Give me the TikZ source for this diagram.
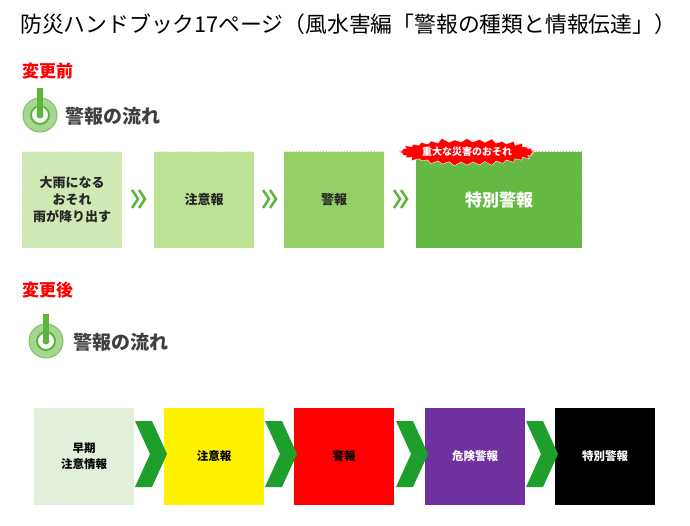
\documentclass[tikz,border=0pt]{standalone}
\usepackage{fontspec}
\setmainfont{Noto Sans CJK JP}
\usetikzlibrary{shapes.symbols,patterns}
\definecolor{gA}{HTML}{CFE8B0}
\definecolor{gB}{HTML}{B7E08E}
\definecolor{gC}{HTML}{8FCD5C}
\definecolor{gD}{HTML}{5CB53A}
\definecolor{chev}{HTML}{1E9E2A}
\definecolor{pale}{HTML}{E2EFDA}
\definecolor{purp}{HTML}{7030A0}
\tikzset{
  oldbox/.style={minimum width=100pt, minimum height=96pt, inner sep=0pt, font=\bfseries\fontsize{13}{17}\selectfont, align=center, text=black!85},
  newbox/.style={minimum width=100pt, minimum height=97pt, inner sep=0pt, font=\bfseries\fontsize{11.5}{16}\selectfont, align=center},
  hatch/.style={fill=#1, postaction={pattern=north east lines, pattern color=#1!82!white}},
  heading/.style={anchor=west, font=\bfseries\fontsize{19}{19}\selectfont, text=black!75},
  dchev/.style={draw=gD, line width=2.5pt},
}
\newcommand*\alerticon[1]{% centre of the icon
  \fill[gD!55] #1 circle (17);
  \draw[gD!80, line width=1pt] #1 circle (17);
  \draw[gD, line width=2pt, fill=white] #1 circle (9);
  \fill[gD] #1 ++(-3,-1) rectangle ++(6,-26);
  \fill[gD] #1 circle (3.5);
}
\begin{document}
\begin{tikzpicture}[x=1pt,y=-1pt]
\useasboundingbox[fill=white] (0,0) rectangle (690,526);
% title
\node[anchor=west, font=\fontsize{21.8}{22}\selectfont, inner sep=0pt] (title) at (20,24)
  {防災ハンドブック17ページ（風水害編「警報の種類と情報伝達」）};
\node[anchor=west, text=red, font=\bfseries\fontsize{17}{17}\selectfont, inner sep=0pt] (before) at (22,71) {変更前};
\node[anchor=west, text=red, font=\bfseries\fontsize{17}{17}\selectfont, inner sep=0pt] (after) at (22,290) {変更後};
% before
\alerticon{(40,115)}
\node[heading] (flowA) at (62,116) {警報の流れ};
\node[oldbox, hatch=gA] (oa) at (72,200) {大雨になる\\おそれ\\雨が降り出す};
\node[oldbox, hatch=gB] (ob) at (204,200) {注意報};
\node[oldbox, hatch=gC] (oc) at (334,200) {警報};
\node[oldbox, hatch=gD, minimum width=166pt, text=white, font=\bfseries\fontsize{17}{17}\selectfont] (od) at (499,200) {特別警報};
\node[starburst, starburst points=34, starburst point height=5pt, fill=red, draw=white, text=white,
  minimum width=128pt, minimum height=30pt, inner sep=1pt, font=\bfseries\fontsize{10}{10}\selectfont] (burst) at (467,152) {重大な災害のおそれ};
\foreach \cx in {132,263,394}{
  \draw[dchev] (\cx,190) -- ++(6,9) -- ++(-6,9);
  \draw[dchev] (\cx+7,190) -- ++(6,9) -- ++(-6,9);
}
% after
\alerticon{(46,341)}
\node[heading] (flowB) at (70,342) {警報の流れ};
\node[newbox, fill=pale] (na) at (84,456) {早期\\注意情報};
\node[newbox, fill=yellow] (nb) at (214,456) {注意報};
\node[newbox, fill=red] (nc) at (344,456) {警報};
\node[newbox, fill=purp, text=white] (nd) at (475,456) {危険警報};
\node[newbox, fill=black, text=white] (ne) at (605,456) {特別警報};
\foreach \cx in {135,265,396,526}
  \fill[chev] (\cx,421) -- ++(17,0) -- ++(15,33) -- ++(-15,33) -- ++(-17,0) -- ++(15,-33) -- cycle;
\end{tikzpicture}
\end{document}
